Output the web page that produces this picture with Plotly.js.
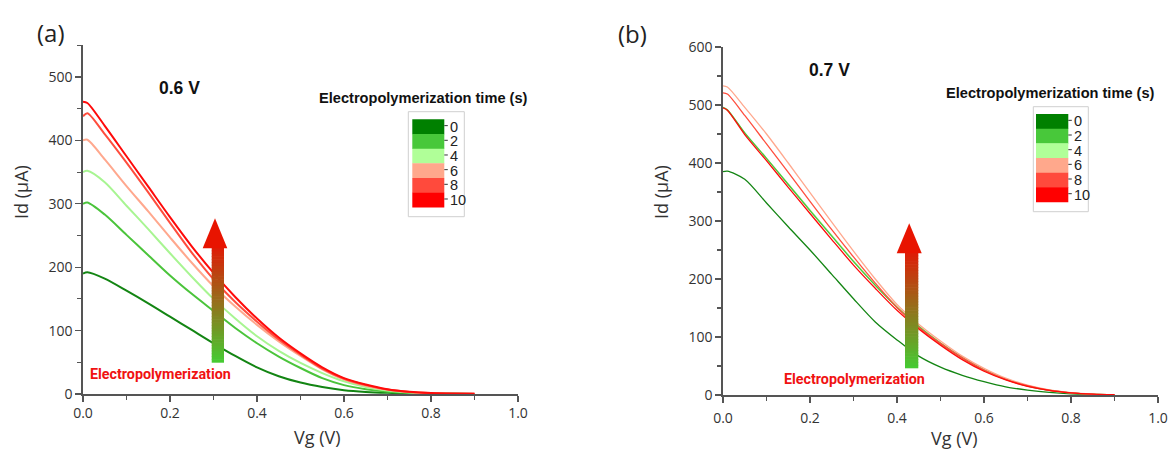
<!DOCTYPE html>
<html>
<head>
<meta charset="utf-8">
<script src="https://cdn.plot.ly/plotly-3.0.1.min.js"></script>
<style>html,body{margin:0;padding:0;background:#fff;}#chart{width:1169px;height:450px;}</style>
</head>
<body>
<div id="chart"></div>
<script>
// ---------------- data ----------------
const vg = [0, 0.01, 0.05, 0.1, 0.15, 0.2, 0.25, 0.3, 0.35, 0.4, 0.45, 0.5, 0.55, 0.6, 0.65, 0.7, 0.75, 0.8, 0.85, 0.9];
const times = ['0', '2', '4', '6', '8', '10'];
const seriesColors = ['#138513', '#4bc43b', '#a8f592', '#ffa88e', '#ff4d3d', '#ff0a0a'];
const swatchColors = ['#008000', '#48c83a', '#b0ff98', '#ffa88c', '#ff4a3c', '#ff0000'];

// panel (a) 0.6 V
const a_t0  = [190, 192, 182, 163, 143, 122, 101, 80, 60, 42, 28, 18, 11, 6, 3.3, 1.8, 0.9, 0.4, 0.2, 0.1];
const a_t2  = [300, 302, 283, 251, 219, 187, 158, 131, 104, 80, 59, 41, 25, 14, 7.5, 3.6, 1.8, 0.8, 0.3, 0.1];
const a_t4  = [350, 352, 334, 297, 260, 222, 185, 150, 119, 91, 68, 49, 33, 20, 11, 5.5, 2.5, 1, 0.4, 0.1];
const a_t6  = [400, 401, 370, 328, 288, 247, 207, 170, 138, 109, 83, 60, 39, 23, 13, 6.5, 3, 1.3, 0.5, 0.2];
const a_t8  = [438, 443, 410, 365, 318, 270, 223, 181, 145, 114, 86, 62, 40, 24, 14, 7, 3.2, 1.4, 0.5, 0.2];
const a_t10 = [461, 459, 423, 375, 327, 279, 233, 191, 153, 119, 89, 64, 42, 25, 15, 7.5, 3.5, 1.5, 0.6, 0.2];

// panel (b) 0.7 V
const b_t0  = [385, 386, 372, 331, 290, 250, 208, 166, 126, 95, 67, 48, 34, 23, 14, 8.5, 4.5, 2, 0.8, 0.3];
const b_t2  = [496, 492, 452, 408, 363, 318, 274, 230, 189, 151, 118, 89, 64, 43, 27, 15.5, 8, 3.6, 1.4, 0.4];
const b_t4  = [495, 491, 452, 408, 364, 319, 275, 231, 190, 152, 119, 90, 65, 44, 27.5, 15.8, 8.2, 3.7, 1.4, 0.4];
const b_t6  = [533, 531, 496, 450, 400, 349, 298, 248, 200, 156, 122, 93, 67, 46, 29, 17, 9, 4, 1.6, 0.5];
const b_t8  = [521, 519, 482, 433, 384, 334, 285, 238, 193, 151, 117, 89, 64, 43, 27, 16, 8.2, 3.8, 1.5, 0.5];
const b_t10 = [495, 491, 449, 404, 358, 313, 268, 224, 184, 146, 114, 86, 61, 41, 26, 15, 8, 3.8, 1.5, 0.5];

const xTickVals = [0, 0.2, 0.4, 0.6, 0.8, 1.0];
const xTickText = ['0.0', '0.2', '0.4', '0.6', '0.8', '1.0'];

// ---------------- helpers ----------------
const W = 1169, H = 450;
const X = p => p / W;
const Y = p => 1 - p / H;

const aSeries = [a_t0, a_t2, a_t4, a_t6, a_t8, a_t10];
const bSeries = [b_t0, b_t4, b_t2, b_t6, b_t8, b_t10];
const bIdx = [0, 2, 1, 3, 4, 5];

const traces = [];
aSeries.forEach((s, i) => traces.push({
  x: vg, y: s, type: 'scatter', mode: 'lines', xaxis: 'x', yaxis: 'y',
  line: {color: seriesColors[i], width: 2, shape: 'spline', smoothing: 0.8},
  name: times[i] + ' s', showlegend: false, hoverinfo: 'skip'
}));
bSeries.forEach((s, k) => traces.push({
  x: vg, y: s, type: 'scatter', mode: 'lines', xaxis: 'x2', yaxis: 'y2',
  line: {color: seriesColors[bIdx[k]], width: 1.3, shape: 'spline', smoothing: 0.8},
  name: times[bIdx[k]] + ' s', showlegend: false, hoverinfo: 'skip'
}));

const tickFont = {family: 'Open Sans, sans-serif', size: 14, color: '#333'};
function xAxis(domain, anchor, standoff) {
  return {domain: domain, anchor: anchor, range: [0, 1], tickvals: xTickVals, ticktext: xTickText,
    showline: true, linecolor: '#555', linewidth: 1.6, ticks: 'outside', ticklen: 6, tickwidth: 1.3, tickcolor: '#555',
    minor: {dtick: 0.1, tick0: 0, ticks: 'outside', ticklen: 4, tickwidth: 1.2, tickcolor: '#555'},
    showgrid: false, zeroline: false, tickfont: tickFont, automargin: false, fixedrange: true,
    ticklabelstandoff: standoff};
}
function yAxis(domain, anchor, maxv) {
  return {domain: domain, anchor: anchor, range: [0, maxv], dtick: 100, tick0: 0,
    showline: true, linecolor: '#555', linewidth: 1.6, ticks: 'outside', ticklen: 6, tickwidth: 1.3, tickcolor: '#555',
    minor: {dtick: 50, tick0: 0, ticks: 'outside', ticklen: 4, tickwidth: 1.2, tickcolor: '#555'},
    showgrid: false, zeroline: false, tickfont: tickFont, automargin: false, fixedrange: true};
}

const shapes = [];
const annotations = [];
function txt(text, cx, cy, font, extra) {
  annotations.push(Object.assign({text: text, x: X(cx), y: Y(cy), xref: 'paper', yref: 'paper',
    xanchor: 'center', yanchor: 'middle', showarrow: false, font: font}, extra || {}));
}

// legend blocks
function legendBlock(bx0, by0, bx1, by1, sx0, sx1, sy0, title, tx, ty) {
  shapes.push({type: 'rect', xref: 'paper', yref: 'paper', x0: X(bx0), x1: X(bx1), y0: Y(by0), y1: Y(by1),
    line: {color: '#cfcfcf', width: 1}, fillcolor: 'rgba(0,0,0,0)'});
  const h = 14.67;
  times.forEach((t, i) => {
    const y0 = sy0 + i * h, y1 = y0 + h;
    shapes.push({type: 'rect', xref: 'paper', yref: 'paper', x0: X(sx0), x1: X(sx1), y0: Y(y0), y1: Y(y1 + 0.3),
      line: {width: 0}, fillcolor: swatchColors[i]});
    const yc = y0 + h / 2;
    shapes.push({type: 'line', xref: 'paper', yref: 'paper', x0: X(sx1), x1: X(sx1 + 3.5), y0: Y(yc - 1), y1: Y(yc - 1),
      line: {color: '#333', width: 1}});
    annotations.push({text: t, x: X(sx1 + 3.2), y: Y(yc), xref: 'paper', yref: 'paper', xanchor: 'left', yanchor: 'middle',
      showarrow: false, font: {family: 'Liberation Sans, Arial, sans-serif', size: 14.5, color: '#222'}});
  });
  txt('<b>' + title + '</b>', tx, ty, {family: 'Liberation Sans, Arial, sans-serif', size: 14.6, color: '#111'});
}
legendBlock(408.3, 111.7, 464.3, 216.7, 412.3, 444.3, 119.3, 'Electropolymerization time (s)', 423.7, 97.8);
legendBlock(1033.3, 106.7, 1088.3, 211.7, 1036, 1068.3, 114, 'Electropolymerization time (s)', 1050, 93.3);

// gradient arrows
function gradArrow(sx0, sx1, sBottom, headBase, hx0, hx1, tip) {
  const N = 40;
  const c0 = [68, 204, 51], c1 = [222, 28, 6];
  for (let i = 0; i < N; i++) {
    const f = (i + 0.5) / N;
    const col = 'rgb(' + c0.map((v, k) => Math.round(v + (c1[k] - v) * f)).join(',') + ')';
    const yb = sBottom - (sBottom - headBase) * i / N;
    const yt = sBottom - (sBottom - headBase) * (i + 1) / N - 0.6;
    shapes.push({type: 'rect', xref: 'paper', yref: 'paper', x0: X(sx0), x1: X(sx1), y0: Y(yb), y1: Y(yt),
      line: {width: 0}, fillcolor: col});
  }
  const cx = (hx0 + hx1) / 2;
  shapes.push({type: 'path', xref: 'paper', yref: 'paper',
    path: 'M ' + X(hx0) + ',' + Y(headBase) + ' L ' + X(cx) + ',' + Y(tip) + ' L ' + X(hx1) + ',' + Y(headBase) + ' Z',
    fillcolor: '#e81400', line: {width: 0}});
}
gradArrow(211.7, 224, 362.7, 248.3, 202.7, 227.3, 218.3);
gradArrow(905, 918.3, 368.3, 253.3, 896.7, 921.7, 223.3);

// texts
const labelFont = {family: 'Open Sans, sans-serif', size: 24, color: '#222'};
txt('(a)', 51, 32, labelFont);
txt('(b)', 632.5, 33, labelFont);
txt('<b>0.6 V</b>', 179.3, 88, {family: 'Liberation Sans, Arial, sans-serif', size: 17.5, color: '#111'});
txt('<b>0.7 V</b>', 829, 70.3, {family: 'Liberation Sans, Arial, sans-serif', size: 17.5, color: '#111'});
const redFont = {family: 'Roboto, sans-serif', size: 14.3, color: '#f01212'};
txt('<b>Electropolymerization</b>', 160.5, 373.5, redFont);
txt('<b>Electropolymerization</b>', 854, 379, redFont);
const axFont = {family: 'Open Sans, sans-serif', size: 18, color: '#333'};
txt('Vg (V)', 317, 436.5, axFont);
txt('Vg (V)', 954, 437.5, axFont);
txt('Id (µA)', 20.5, 192.5, axFont, {textangle: -90});
txt('Id (µA)', 661, 192, axFont, {textangle: -90});

const layout = {
  width: W, height: H, margin: {l: 0, r: 0, t: 0, b: 0},
  paper_bgcolor: '#fff', plot_bgcolor: '#fff', showlegend: false,
  xaxis: xAxis([83 / W, 518 / W], 'y', 0),
  yaxis: yAxis([1 - 394 / H, 1 - 45.3 / H], 'x', 550),
  xaxis2: xAxis([723 / W, 1158 / W], 'y2', 4),
  yaxis2: yAxis([1 - 395 / H, 1 - 47 / H], 'x2', 600),
  shapes: shapes, annotations: annotations
};

Plotly.newPlot('chart', traces, layout, {staticPlot: true, displayModeBar: false});
</script>
</body>
</html>
